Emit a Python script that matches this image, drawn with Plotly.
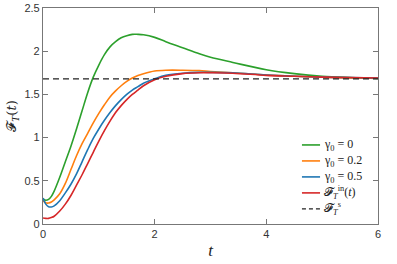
import plotly.graph_objects as go

t = [0, 0.05, 0.1, 0.15, 0.2, 0.3, 0.4, 0.5, 0.6, 0.7, 0.8, 0.9, 1.0, 1.1, 1.2, 1.3, 1.4, 1.5, 1.6,
     1.7, 1.8, 2.0, 2.2, 2.5, 2.8, 3.0, 3.4, 4.0, 4.5, 5.0, 5.5, 6.0]

green = [0.29, 0.275, 0.285, 0.32, 0.38, 0.54, 0.72, 0.90, 1.10, 1.31, 1.52, 1.70, 1.84, 1.96, 2.05, 2.11,
         2.155, 2.18, 2.195, 2.195, 2.19, 2.16, 2.11, 2.04, 1.97, 1.93, 1.87, 1.785, 1.74, 1.71, 1.695, 1.685]
orange = [0.27, 0.245, 0.243, 0.255, 0.28, 0.35, 0.47, 0.63, 0.79, 0.93, 1.05, 1.17, 1.28, 1.38, 1.47, 1.54,
          1.60, 1.65, 1.69, 1.72, 1.74, 1.77, 1.78, 1.78, 1.775, 1.765, 1.75, 1.725, 1.71, 1.70, 1.69, 1.69]
blue = [0.30, 0.23, 0.20, 0.197, 0.21, 0.27, 0.36, 0.46, 0.58, 0.72, 0.86, 0.99, 1.10, 1.20, 1.29, 1.37,
        1.44, 1.50, 1.55, 1.59, 1.63, 1.68, 1.72, 1.745, 1.755, 1.755, 1.75, 1.725, 1.71, 1.70, 1.695, 1.69]
red = [0.07, 0.065, 0.065, 0.075, 0.09, 0.15, 0.23, 0.33, 0.45, 0.57, 0.70, 0.83, 0.96, 1.08, 1.19, 1.29,
       1.37, 1.44, 1.50, 1.55, 1.60, 1.67, 1.71, 1.74, 1.75, 1.75, 1.745, 1.72, 1.71, 1.70, 1.695, 1.69]
steady = 1.68

names = ["γ<sub>0</sub> = 0", "γ<sub>0</sub> = 0.2", "γ<sub>0</sub> = 0.5",
         "𝓕<sub><i>T</i></sub><sup>in</sup>(<i>t</i>)", "𝓕<sub><i>T</i></sub><sup>s</sup>"]
colors = ["#2ca02c", "#ff7f0e", "#1f77b4", "#d62728", "#222222"]
dashes = ["solid", "solid", "solid", "solid", "4px,3px"]

fig = go.Figure()
for ys, nm, c in zip([green, orange, blue, red], names[:4], colors[:4]):
    fig.add_trace(go.Scatter(x=t, y=ys, mode="lines", name=nm, showlegend=False,
                             line=dict(color=c, width=1.6, shape="spline", smoothing=1.0)))
fig.add_trace(go.Scatter(x=[0, 6], y=[steady, steady], mode="lines", name=names[4], showlegend=False,
                         line=dict(color=colors[4], width=1.1, dash="6px,4px")))

# compact legend (rows 16 px apart, like the reference)
lx0, lx1, tx = 0.773, 0.827, 0.833
row_y0, row_dy = 0.366, 0.074
for i, (nm, c, d) in enumerate(zip(names, colors, dashes)):
    yy = row_y0 - i * row_dy
    fig.add_shape(type="line", xref="paper", yref="paper", x0=lx0, x1=lx1, y0=yy, y1=yy,
                  line=dict(color=c, width=1.6 if d == "solid" else 1.1, dash=d))
    fig.add_annotation(xref="paper", yref="paper", x=tx, y=yy, text=nm, showarrow=False,
                       xanchor="left", yanchor="middle",
                       font=dict(family="Liberation Serif", size=12, color="#222"))

axis_common = dict(showgrid=False, zeroline=False, showline=True, linecolor="#777", linewidth=1.2,
                   mirror="ticks", ticks="inside", ticklen=5, tickcolor="#777", tickwidth=1.2,
                   automargin=False,
                   tickfont=dict(family="Liberation Sans, Arial", size=11, color="#333"))
fig.update_xaxes(range=[0, 6], tickvals=[0, 2, 4, 6], ticktext=["0", "2", "4", "6"],
                 title=dict(text="<i>t</i>", font=dict(family="Liberation Serif", size=17, color="#222"), standoff=4),
                 **axis_common)
fig.update_yaxes(range=[0, 2.5], tickvals=[0, 0.5, 1, 1.5, 2, 2.5], ticktext=["0", "0.5", "1", "1.5", "2", "2.5"],
                 title=dict(text="𝓕<sub><i>T</i></sub>(<i>t</i>)", font=dict(family="DejaVu Serif, Liberation Serif", size=13, color="#222"), standoff=4),
                 **axis_common)

fig.update_layout(
    width=397, height=264,
    margin=dict(l=43, r=19, t=8, b=40, autoexpand=False),
    plot_bgcolor="white", paper_bgcolor="white",
    showlegend=False,
)
fig.write_html("out.html", config={"displayModeBar": False},
               post_script="document.body.style.margin='0';document.body.style.padding='0';")
